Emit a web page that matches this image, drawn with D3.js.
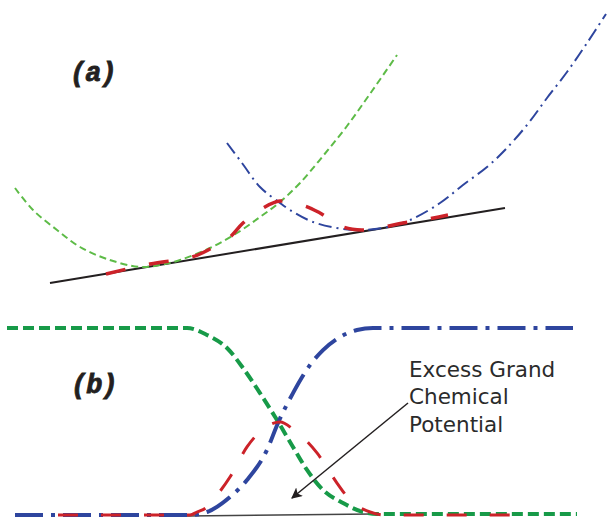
<!DOCTYPE html>
<html>
<head>
<meta charset="utf-8">
<script src="https://cdn.jsdelivr.net/npm/d3@7"></script>
<style>
  html, body { margin: 0; padding: 0; background: #fff; }
  svg { display: block; }
</style>
</head>
<body>
<div id="chart"></div>
<script>
// panel (a): free energy vs composition (arbitrary units)
const phaseA = [[0.5,10.2],[2.3,8.0],[4.7,6.0],[7.0,4.3],[9.7,3.1],[13.0,2.3],[15.0,2.5],[17.0,3.0],
  [20.0,4.2],[22.7,5.7],[25.0,7.3],[27.0,8.8],[29.0,10.7],[31.3,13.4],[33.7,16.4],[36.2,19.9],[38.7,23.5]];
const phaseB = [[21.7,14.7],[23.2,12.7],[25.0,10.3],[27.0,8.7],[28.0,8.0],[30.3,6.8],[33.3,6.1],[35.2,6.0],
  [37.3,6.2],[40.0,7.0],[43.0,8.7],[45.3,10.5],[47.7,12.3],[49.5,14.0],[51.7,16.5],[53.7,19.2],
  [55.7,21.8],[57.7,24.7],[59.6,27.6]];
const interfaceA = [[9.6,1.6],[14.0,2.6],[18.2,3.3],[20.0,4.1],[22.0,5.3],[23.3,6.7],[25.3,8.2],[27.0,8.9],
  [29.5,8.4],[31.0,7.7],[33.3,6.3],[35.2,6.0],[37.3,6.3],[39.3,6.7],[41.8,7.1],[43.8,7.5]];
const tangent = [[4.0,0.7],[49.5,8.2]];

// panel (b): profiles across the interface
const profileGreen = [[-0.3,1.0],[17.7,1.0],[19.7,0.963],[21.7,0.893],[23.3,0.786],[25.0,0.652],[26.7,0.508],
  [28.3,0.364],[29.7,0.241],[31.3,0.134],[33.3,0.064],[35.3,0.016],[36.7,0.005],[56.7,0.005]];
const profileBlue = [[0.5,0],[18.0,0],[19.7,0.016],[22.0,0.096],[23.7,0.187],[25.7,0.348],[26.8,0.492],
  [28.3,0.652],[30.0,0.802],[31.3,0.882],[33.0,0.952],[34.7,0.989],[36.3,1.0],[56.3,1.0]];
const profileRed = [[4.8,0],[18.0,0],[18.7,0.016],[19.7,0.043],[20.3,0.08],[22.0,0.203],[23.7,0.364],
  [25.2,0.455],[27.0,0.497],[28.5,0.45],[30.7,0.332],[32.7,0.171],[34.0,0.08],[36.0,0.016],[37.5,0],[50.7,0]];
const baselineB = [[17.7,-0.005],[36.2,0.005]];

const noteLines = ["Excess Grand", "Chemical", "Potential"];
const noteAt = [39.9, 0.738];
const arrowFrom = [39.8, 0.599];
const arrowTo = [28.2, 0.091];

const width = 607, height = 518;
const black = "#231f20", red = "#cc2229", blue = "#2e459e", lightGreen = "#5dbb47", darkGreen = "#179a48";

const svg = d3.select("#chart").append("svg")
  .attr("width", width).attr("height", height);

svg.append("defs").append("marker")
  .attr("id", "head")
  .attr("viewBox", "0 0 10 10")
  .attr("refX", 9).attr("refY", 5)
  .attr("markerWidth", 11).attr("markerHeight", 11)
  .attr("markerUnits", "userSpaceOnUse")
  .attr("orient", "auto")
  .append("path")
  .attr("d", "M0,0 L10,5 L0,10 L2.5,5 Z")
  .attr("fill", black);

// scales
const x = d3.scaleLinear().domain([0, 60]).range([10, 610]);
const yA = d3.scaleLinear().domain([0, 28]).range([290, 10]);
const yB = d3.scaleLinear().domain([0, 1]).range([515, 328]);

const lineA = d3.line().x(d => x(d[0])).y(d => yA(d[1])).curve(d3.curveCatmullRom.alpha(0.5));
const lineB = d3.line().x(d => x(d[0])).y(d => yB(d[1])).curve(d3.curveMonotoneX);

const gA = svg.append("g");
gA.append("path").attr("d", lineA(tangent))
  .attr("fill", "none").attr("stroke", black).attr("stroke-width", 2);
gA.append("path").attr("d", lineA(phaseA))
  .attr("fill", "none").attr("stroke", lightGreen).attr("stroke-width", 2)
  .attr("stroke-dasharray", "7,4");
gA.append("path").attr("d", lineA(phaseB))
  .attr("fill", "none").attr("stroke", blue).attr("stroke-width", 2)
  .attr("stroke-dasharray", "13,5,2,5");
gA.append("path").attr("d", lineA(interfaceA))
  .attr("fill", "none").attr("stroke", red).attr("stroke-width", 3.5)
  .attr("stroke-dasharray", "20,24");

const labelStyle = sel => sel
  .attr("font-family", "Liberation Mono, Courier New, monospace")
  .attr("font-weight", "bold").attr("font-style", "italic")
  .attr("font-size", 27).attr("fill", black)
  .attr("stroke", black).attr("stroke-width", 0.8)
  .attr("letter-spacing", -1);

gA.append("text").attr("x", 70).attr("y", 81).call(labelStyle).text("(a)");

const gB = svg.append("g");
gB.append("path").attr("d", lineB(baselineB))
  .attr("fill", "none").attr("stroke", "#444").attr("stroke-width", 1.5);
gB.append("path").attr("d", lineB(profileGreen))
  .attr("fill", "none").attr("stroke", darkGreen).attr("stroke-width", 4)
  .attr("stroke-dasharray", "11,5");
gB.append("path").attr("d", lineB(profileBlue))
  .attr("fill", "none").attr("stroke", blue).attr("stroke-width", 4)
  .attr("stroke-dasharray", "28,8,4,8");
gB.append("path").attr("d", lineB(profileRed))
  .attr("fill", "none").attr("stroke", red).attr("stroke-width", 3)
  .attr("stroke-dasharray", "20,23");

gB.append("text").attr("x", 71).attr("y", 393).call(labelStyle).text("(b)");

gB.append("line")
  .attr("x1", x(arrowFrom[0])).attr("y1", yB(arrowFrom[1]))
  .attr("x2", x(arrowTo[0])).attr("y2", yB(arrowTo[1]))
  .attr("stroke", black).attr("stroke-width", 1.5)
  .attr("marker-end", "url(#head)");

gB.append("g").selectAll("text")
  .data(noteLines)
  .join("text")
  .attr("x", x(noteAt[0]))
  .attr("y", (d, i) => yB(noteAt[1]) + i * 27.5)
  .attr("font-family", "DejaVu Sans, sans-serif")
  .attr("font-size", 21.5).attr("fill", "#2b2b2b")
  .text(d => d);
</script>
</body>
</html>
